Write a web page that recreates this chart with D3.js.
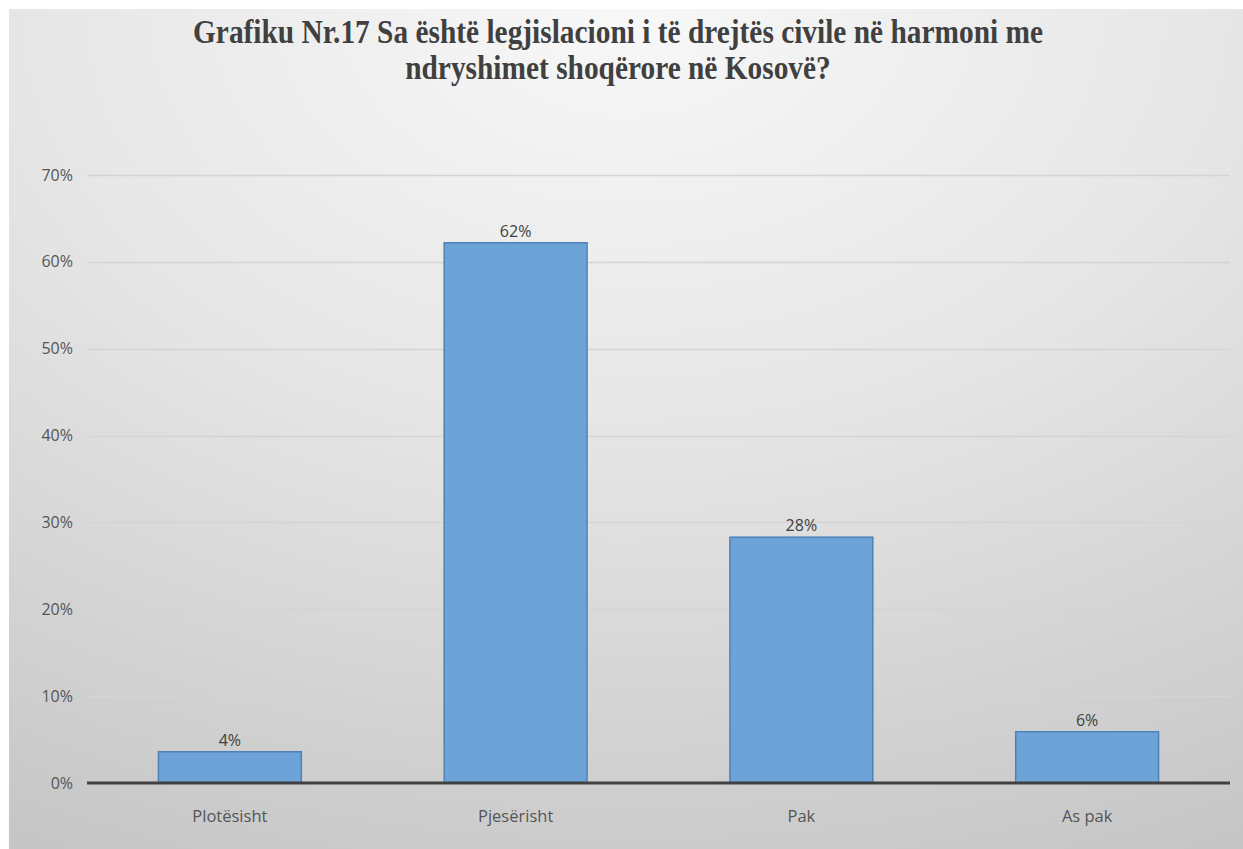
<!DOCTYPE html>
<html>
<head>
<meta charset="utf-8">
<script src="https://cdn.jsdelivr.net/npm/d3@7/dist/d3.min.js"></script>
<style>
  html, body { margin: 0; padding: 0; background: #ffffff; }
  svg { display: block; }
</style>
</head>
<body>
<svg id="chart" width="1243" height="849"></svg>
<script>
const categories = ["Plotësisht", "Pjesërisht", "Pak", "As pak"];
const values = [3.6, 62.2, 28.3, 5.9];
const valueLabels = ["4%", "62%", "28%", "6%"];
const yTicks = [0, 10, 20, 30, 40, 50, 60, 70];
const titleLines = ["Grafiku Nr.17 Sa është legjislacioni i të drejtës civile në harmoni me",
                    "ndryshimet shoqërore në Kosovë?"];

const W = 1243, H = 849;
const svg = d3.select("#chart");

const defs = svg.append("defs");
const grad = defs.append("radialGradient").attr("id", "bg")
  .attr("cx", "50%").attr("cy", "0%").attr("r", "110%")
  .attr("fx", "50%").attr("fy", "0%");
grad.append("stop").attr("offset", "0%").attr("stop-color", "#f8f8f8");
grad.append("stop").attr("offset", "45%").attr("stop-color", "#e6e6e6");
grad.append("stop").attr("offset", "100%").attr("stop-color", "#c6c6c6");

svg.append("rect").attr("x", 0).attr("y", 0).attr("width", W).attr("height", H).attr("fill", "#ffffff");
svg.append("rect").attr("x", 9).attr("y", 9).attr("width", W - 9).attr("height", H - 9)
  .attr("fill", "url(#bg)");

const plot = { left: 87, right: 1230, top: 175, bottom: 783 };

const x = d3.scaleBand().domain(categories).range([plot.left, plot.right])
  .paddingInner(0.5).paddingOuter(0.25);
const y = d3.scaleLinear().domain([0, 70]).range([plot.bottom, plot.top]);

// gridlines
svg.append("g").selectAll("line").data(yTicks.filter(d => d > 0)).join("line")
  .attr("x1", plot.left).attr("x2", plot.right)
  .attr("y1", d => Math.round(y(d)) + 0.5).attr("y2", d => Math.round(y(d)) + 0.5)
  .attr("stroke", "#d4d4d4").attr("stroke-width", 1.5);

// y axis labels
const yAxis = d3.axisLeft(y).tickValues(yTicks).tickFormat(d => d + "%").tickSize(0).tickPadding(0);
const yg = svg.append("g").attr("transform", `translate(${plot.left - 14},0)`).call(yAxis);
yg.select(".domain").remove();
yg.selectAll("text")
  .attr("font-family", "'Open Sans', 'Noto Sans', sans-serif")
  .attr("font-size", 16).attr("fill", "#555555");

// bars
svg.append("g").selectAll("rect").data(values).join("rect")
  .attr("x", (d, i) => x(categories[i]))
  .attr("y", d => y(d))
  .attr("width", x.bandwidth())
  .attr("height", d => y(0) - y(d))
  .attr("fill", "#6ea3d7")
  .attr("stroke", "#4f81b8").attr("stroke-width", 1.5);

// value labels
svg.append("g").selectAll("text").data(values).join("text")
  .attr("x", (d, i) => x(categories[i]) + x.bandwidth() / 2)
  .attr("y", d => y(d) - 6)
  .attr("text-anchor", "middle")
  .attr("font-family", "'Open Sans', 'Noto Sans', sans-serif")
  .attr("font-size", 16).attr("fill", "#404040")
  .text((d, i) => valueLabels[i]);

// x axis
const xAxis = d3.axisBottom(x).tickSize(0).tickPadding(0);
const xg = svg.append("g").attr("transform", `translate(0,${plot.bottom})`).call(xAxis);
xg.select(".domain").attr("stroke", "#404040").attr("stroke-width", 3)
  .attr("d", `M${plot.left},0H${plot.right}`);
xg.selectAll("text")
  .attr("dy", 0).attr("y", 39)
  .attr("font-family", "'Open Sans', 'Noto Sans', sans-serif")
  .attr("font-size", 16.5).attr("fill", "#555555");

// title (uniformly condensed serif)
const tg = svg.append("g");
const tt = tg.selectAll("text").data(titleLines).join("text")
  .attr("y", (d, i) => 43 + i * 36)
  .attr("font-family", "'Liberation Serif', 'Times New Roman', serif")
  .attr("font-weight", "bold")
  .attr("font-size", 33).attr("fill", "#404040")
  .text(d => d);
const nat = [];
tt.each(function() { nat.push(this.getComputedTextLength()); });
const factor = 850 / nat[0];
tt.attr("textLength", (d, i) => nat[i] * factor)
  .attr("lengthAdjust", "spacingAndGlyphs")
  .attr("x", (d, i) => 618 - nat[i] * factor / 2);
</script>
</body>
</html>
